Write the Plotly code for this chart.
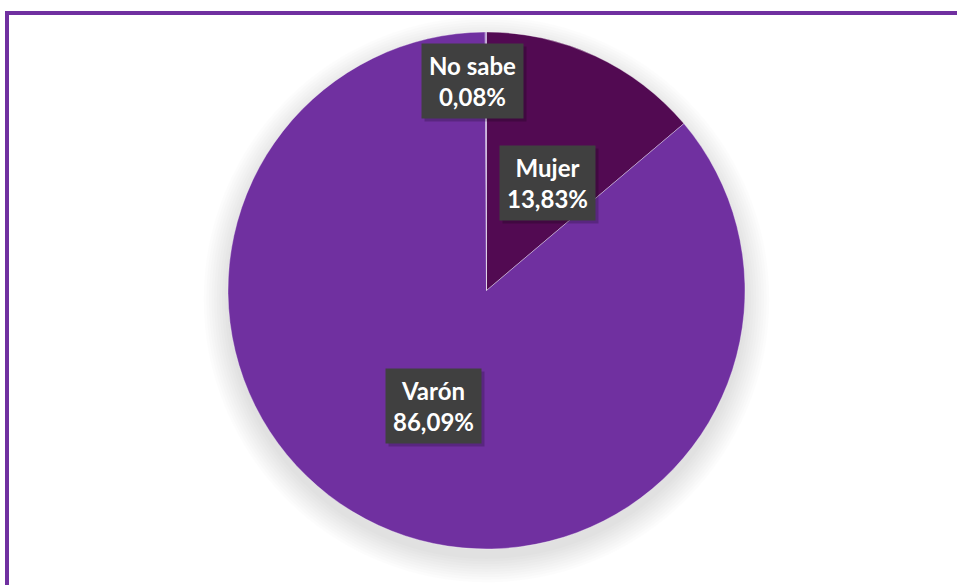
import math
import plotly.graph_objects as go

# ---- data ----
labels = ["Mujer", "Varón", "No sabe"]
values = [13.83, 86.09, 0.08]
value_text = ["13,83%", "86,09%", "0,08%"]
colors = ["#520a52", "#7030a0", "#9b6fc7"]

# ---- layout / style ----
W, H = 957, 585
cx, cy, R = 486.5, 290.5, 258.5           # pie centre & radius in figure pixels
label_radius = [0.46, 0.49, 0.81]         # radial position of label box (fraction of R)
label_xshift = [11, 0, -13]
frame_color = "#7030a0"
font_family = "Lato, 'Open Sans', 'DejaVu Sans', sans-serif"

fig = go.Figure()
fig.add_trace(go.Pie(
    labels=labels,
    values=values,
    sort=False,
    direction="clockwise",
    rotation=0,
    marker=dict(colors=colors, line=dict(color="rgba(255,255,255,0.35)", width=1)),
    textinfo="none",
    hoverinfo="label+percent",
    showlegend=False,
    domain=dict(x=[(cx - R) / W, (cx + R) / W], y=[(H - cy - R) / H, (H - cy + R) / H]),
))

shapes = []
# soft shadow behind pie
for i in range(10):
    rr = R + 1 + i * 2.6
    oy = 9
    shapes.append(dict(
        type="circle", xref="paper", yref="paper", layer="below",
        x0=(cx - rr) / W, x1=(cx + rr) / W,
        y0=(H - (cy + oy) - rr) / H, y1=(H - (cy + oy) + rr) / H,
        fillcolor="rgba(0,0,0,0.012)", line=dict(width=0),
    ))
# purple frame
shapes.append(dict(
    type="rect", xref="paper", yref="paper", layer="above",
    x0=7 / W, x1=1.05, y0=-0.05, y1=(H - 13) / H,
    line=dict(color=frame_color, width=4), fillcolor="rgba(0,0,0,0)",
))

annotations = []
total = sum(values)
cum = 0.0
for i, (lab, val, vt) in enumerate(zip(labels, values, value_text)):
    mid = (cum + val / 2) / total * 2 * math.pi
    cum += val
    px = cx + R * label_radius[i] * math.sin(mid)
    py = cy - R * label_radius[i] * math.cos(mid)
    txt = f"{lab}<br>{vt}"
    common = dict(xref="paper", yref="paper", x=px / W, y=(H - py) / H,
                  xanchor="center", yanchor="middle",
                  showarrow=False, borderpad=7, align="center")
    # drop shadow
    annotations.append(dict(text=txt, bgcolor="rgba(0,0,0,0.2)",
                            font=dict(family=font_family, size=24, color="rgba(0,0,0,0)", weight="bold"),
                            xshift=label_xshift[i] + 3, yshift=-3, **common))
    annotations.append(dict(text=txt, bgcolor="#404040",
                            font=dict(family=font_family, size=24, color="white", weight="bold"),
                            xshift=label_xshift[i], **common))

fig.update_layout(
    width=W, height=H,
    margin=dict(l=0, r=0, t=0, b=0),
    paper_bgcolor="white",
    plot_bgcolor="white",
    shapes=shapes,
    annotations=annotations,
)

fig.write_html("out.html", config={"displayModeBar": False},
               post_script="document.body.style.margin='0';document.body.style.overflow='hidden';")
